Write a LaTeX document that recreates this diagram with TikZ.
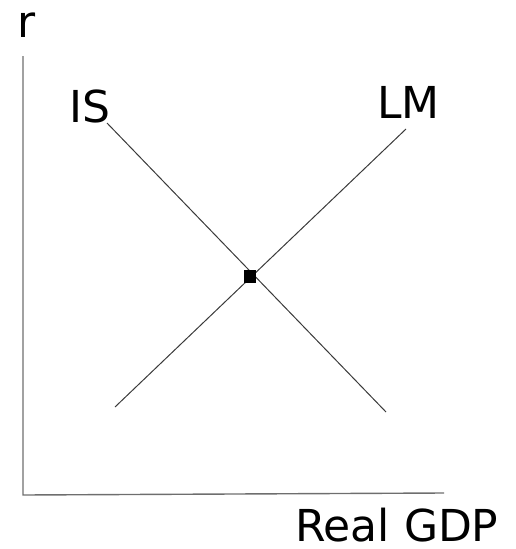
\documentclass[tikz,border=0pt]{standalone}
\usepackage{fontspec}
\setmainfont{DejaVu Sans}
\usetikzlibrary{positioning}
\definecolor{ejegris}{HTML}{6E6E6E}
\definecolor{curvagris}{HTML}{3A3A3A}
\tikzset{
  eje/.style={draw=ejegris,line width=1.4pt},
  curva/.style={draw=curvagris,line width=1pt},
  etiqueta/.style={anchor=base west,inner sep=0pt,font=\fontsize{44}{50}\selectfont},
  equilibrio/.style={fill=black,minimum width=12pt,minimum height=13pt,inner sep=0pt}
}
\begin{document}
\begin{tikzpicture}[x=1pt,y=-1pt]
\useasboundingbox (0,0) rectangle (515,549);
% ejes
\coordinate (origen) at (23,495);
\coordinate (ytope) at (23,56);
\coordinate (xfin) at (444,493);
\draw[eje] (ytope)--(origen)--(xfin);
% curvas
\coordinate (istop) at (107,123);
\coordinate (isbot) at (386,412);
\coordinate (lmtop) at (406,129);
\coordinate (lmbot) at (115,407);
\draw[curva] (istop)--(isbot);
\draw[curva] (lmbot)--(lmtop);
\node[equilibrio] (eq) at (250,276) {};
% textos
\node[etiqueta] (r) at (17,37) {r};
\node[etiqueta] (is) at (69,122) {IS};
\node[etiqueta] (lm) at (377,118) {LM};
\node[etiqueta] (gdp) at (295,541) {Real GDP};
\end{tikzpicture}
\end{document}
